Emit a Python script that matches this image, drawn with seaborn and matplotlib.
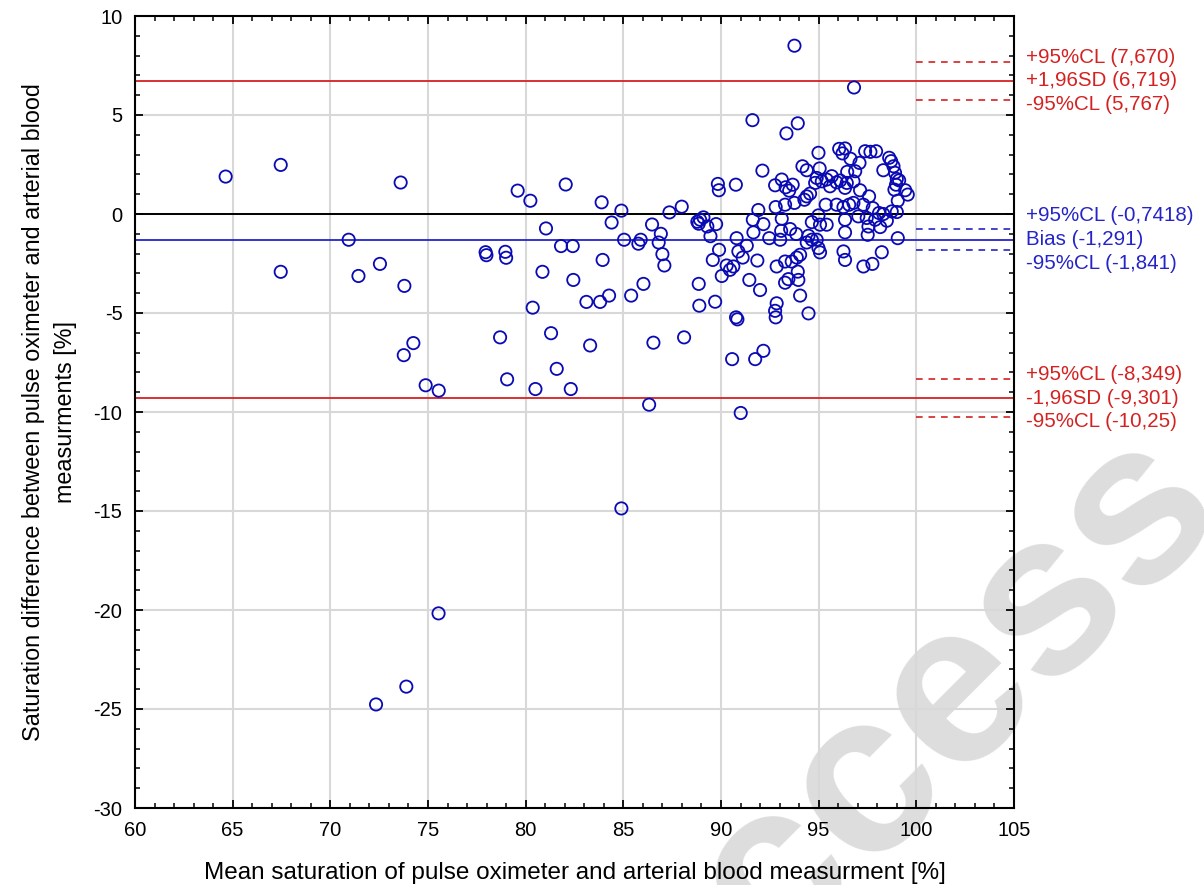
import numpy as np
import pandas as pd
import matplotlib
matplotlib.use('Agg')
import matplotlib.pyplot as plt
from matplotlib.ticker import MultipleLocator
import seaborn as sns

# --- Data ---
mean_sat = [
    64.64, 67.46, 73.6, 67.46, 70.94, 71.44, 72.54, 73.79, 74.25, 73.76,
    74.88, 75.55, 77.95, 77.99, 78.96, 79.0, 79.59, 80.24, 82.05, 81.04,
    81.81, 82.41, 80.86, 82.44, 80.36, 83.11, 83.81, 84.27, 78.69, 81.3,
    83.3, 81.59, 79.05, 80.5, 82.31, 83.89, 84.4, 84.9, 83.94, 85.04,
    85.4, 84.9, 75.54, 73.89, 72.34,
    91.61, 92.12, 89.84, 89.89, 90.76, 87.36, 87.99, 91.91, 86.47, 86.92,
    85.77, 85.89, 86.81, 87.0, 87.1, 88.79, 88.93, 88.86, 89.1, 89.3,
    89.75, 89.46, 89.9, 89.58, 90.29, 90.63, 90.8, 90.89, 91.32, 91.11,
    91.86, 91.63, 92.17, 91.66, 92.47,
    86.03, 88.86, 88.89, 89.7, 90.46, 90.04, 91.45, 92.0, 90.77, 90.84,
    86.54, 88.11, 90.57, 91.75, 92.17, 86.32, 91.01,
    93.93, 93.45, 93.28, 93.96, 94.05, 92.85, 92.77, 92.8, 94.48,
    93.76, 96.81,
    93.93, 93.35, 94.99, 96.05, 96.35, 96.22, 97.38, 97.65, 97.94, 96.63,
    97.09, 94.17, 94.39, 95.05, 96.46, 96.87, 98.31, 98.61, 98.71, 98.83,
    98.91, 99.0, 99.12, 98.88, 99.43, 99.56, 99.05, 98.96, 93.11, 92.77,
    93.31, 93.67, 93.49, 94.9, 95.16, 95.41, 95.67, 95.92, 96.1, 96.44,
    96.78, 94.82, 95.58, 96.35, 97.12, 97.58, 94.39, 94.56, 94.27, 93.76,
    93.28, 92.8, 95.36, 95.92, 96.27, 96.56, 96.78, 97.29, 97.77, 98.09,
    98.31, 98.74, 99.0, 94.99, 93.11, 96.35, 97.03, 97.46, 97.89, 94.65,
    95.07, 95.41, 97.55, 98.15, 98.49, 93.08, 93.54, 93.85, 96.35, 97.51,
    93.03, 94.48, 94.65, 94.39, 94.9, 99.05, 94.99, 95.07, 94.05, 93.88,
    96.27, 96.35, 98.23, 93.28, 93.62, 92.85, 97.29, 97.75,
]
diff_sat = [
    1.89, 2.48, 1.59, -2.92, -1.30, -3.13, -2.52, -3.63, -6.52, -7.13,
    -8.65, -8.92, -1.93, -2.08, -1.91, -2.21, 1.18, 0.67, 1.49, -0.73,
    -1.62, -1.62, -2.92, -3.33, -4.73, -4.44, -4.44, -4.12, -6.23, -6.02,
    -6.64, -7.82, -8.35, -8.84, -8.84, 0.59, -0.43, 0.17, -2.32, -1.3,
    -4.12, -14.87, -20.17, -23.87, -24.77,
    4.74, 2.19, 1.52, 1.2, 1.48, 0.08, 0.37, 0.2, -0.53, -1.0,
    -1.5, -1.3, -1.44, -2.03, -2.6, -0.39, -0.29, -0.49, -0.17, -0.63,
    -0.51, -1.12, -1.81, -2.32, -2.6, -2.65, -1.22, -1.89, -1.6, -2.2,
    -2.35, -0.29, -0.51, -0.93, -1.22,
    -3.53, -3.53, -4.63, -4.43, -2.82, -3.13, -3.33, -3.84, -5.22, -5.32,
    -6.5, -6.23, -7.33, -7.33, -6.91, -9.63, -10.05,
    -2.91, -3.29, -3.47, -3.33, -4.12, -4.51, -4.89, -5.22, -5.02,
    8.5, 6.39,
    4.58, 4.07, 3.09, 3.29, 3.31, 3.06, 3.17, 3.14, 3.17, 2.79,
    2.58, 2.41, 2.21, 2.3, 2.13, 2.16, 2.21, 2.84, 2.67, 2.41,
    2.08, 1.77, 1.7, 1.23, 1.2, 0.98, 0.67, 1.48, 1.74, 1.45,
    1.35, 1.48, 1.18, 1.82, 1.65, 1.74, 1.91, 1.6, 1.69, 1.57,
    1.65, 1.57, 1.4, 1.32, 1.2, 0.89, 0.89, 1.03, 0.72, 0.56,
    0.47, 0.35, 0.47, 0.47, 0.35, 0.47, 0.56, 0.47, 0.3, 0.05,
    0.0, 0.13, 0.1, -0.07, -0.24, -0.29, -0.12, -0.2, -0.29, -0.41,
    -0.54, -0.54, -0.63, -0.66, -0.34, -0.85, -0.76, -1.01, -0.93, -1.05,
    -1.3, -1.1, -1.3, -1.44, -1.3, -1.22, -1.72, -1.94, -2.06, -2.2,
    -1.89, -2.32, -1.93, -2.4, -2.4, -2.65, -2.65, -2.52,
]

# Bland-Altman statistics (as printed on the chart)
bias = -1.291
bias_ci = [-0.7418, -1.841]
upper_loa = 6.719
upper_ci = [7.670, 5.767]
lower_loa = -9.301
lower_ci = [-8.349, -10.25]

upper_names = ['+95%CL (7,670)', '+1,96SD (6,719)', '-95%CL (5,767)']
bias_names = ['+95%CL (-0,7418)', 'Bias (-1,291)', '-95%CL (-1,841)']
lower_names = ['+95%CL (-8,349)', '-1,96SD (-9,301)', '-95%CL (-10,25)']

RED = '#d42222'
BLUE = '#2424c8'
PT_BLUE = '#0a0ab4'

df = pd.DataFrame({'mean': mean_sat, 'diff': diff_sat})

sns.set_style('ticks')
plt.rcParams['font.family'] = ['Liberation Sans', 'DejaVu Sans']
plt.rcParams['axes.unicode_minus'] = False
plt.rcParams['text.color'] = 'black'
plt.rcParams['axes.labelcolor'] = 'black'
plt.rcParams['xtick.labelcolor'] = 'black'
plt.rcParams['ytick.labelcolor'] = 'black'

fig = plt.figure(figsize=(12.04, 8.85), dpi=100)
ax = fig.add_axes([135 / 1204, 1 - 808 / 885, 879 / 1204, 792 / 885])
ax.patch.set_alpha(0)

# watermark behind the plot
fig.text(0.567, -0.192, 'access', rotation=45, rotation_mode='anchor',
         ha='left', va='baseline', fontsize=166, fontweight='bold',
         color='#dddddd', zorder=-5)

ax.grid(True, which='major', color='#d8d8d8', linewidth=1.5, zorder=0)
ax.set_axisbelow(True)

ax.axhline(0, color='black', linewidth=1.4, zorder=2)
ax.axhline(upper_loa, color=RED, linewidth=1.3, zorder=2)
ax.axhline(lower_loa, color=RED, linewidth=1.3, zorder=2)
ax.axhline(bias, color=BLUE, linewidth=1.3, zorder=2)
for v in upper_ci + lower_ci:
    ax.hlines(v, 100, 105, colors=RED, linestyles=(0, (4, 3.5)), linewidth=1.2)
for v in bias_ci:
    ax.hlines(v, 100, 105, colors=BLUE, linestyles=(0, (4, 3.5)), linewidth=1.2)

sns.scatterplot(data=df, x='mean', y='diff', ax=ax, marker='o', s=78,
                fc='none', ec=PT_BLUE, linewidth=1.3, zorder=3, legend=False)

ax.set_xlim(60, 105)
ax.set_ylim(-30, 10)
ax.xaxis.set_major_locator(MultipleLocator(5))
ax.yaxis.set_major_locator(MultipleLocator(5))
ax.xaxis.set_minor_locator(MultipleLocator(1))
ax.yaxis.set_minor_locator(MultipleLocator(1))
ax.tick_params(which='both', direction='in', top=True, right=True,
               color='black', labelcolor='black', labelsize=14.5, pad=9)
ax.tick_params(which='major', length=6, width=1.3)
ax.tick_params(which='minor', length=3.5, width=1.1)
for sp in ax.spines.values():
    sp.set_visible(True)
    sp.set_color('black')
    sp.set_linewidth(1.5)

ax.set_xlabel('Mean saturation of pulse oximeter and arterial blood measurment [%]',
              fontsize=17.5, labelpad=16, color='black')
ax.set_ylabel('Saturation difference between pulse oximeter and arterial blood\nmeasurments [%]',
              fontsize=16.8, labelpad=12, linespacing=1.5, color='black')

# labels on the right of the axes
def side_labels(center, names, color):
    offsets = [17, 0, -17]
    for name, off in zip(names, offsets):
        ax.annotate(name, xy=(1.0, center), xycoords=('axes fraction', 'data'),
                    xytext=(9, off), textcoords='offset points',
                    ha='left', va='center', fontsize=14.8, color=color,
                    annotation_clip=False)

side_labels(upper_loa, upper_names, RED)
side_labels(bias, bias_names, BLUE)
side_labels(lower_loa, lower_names, RED)

fig.savefig('out.png', dpi=100)
